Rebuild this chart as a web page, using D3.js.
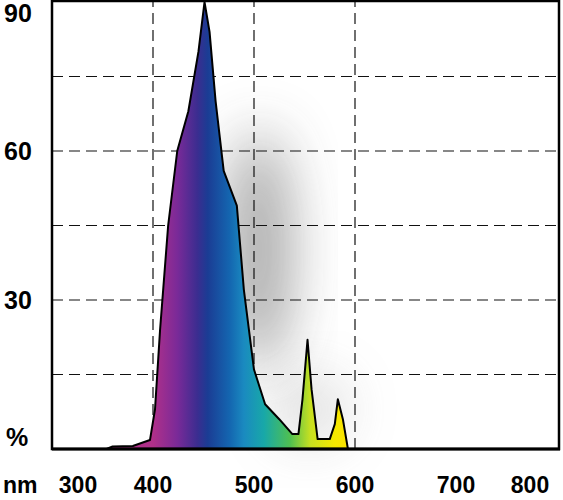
<!DOCTYPE html>
<html><head><meta charset="utf-8">
<script src="https://cdn.jsdelivr.net/npm/d3@7"></script>
<style>body{margin:0;background:#fff}</style>
</head><body>
<svg id="c" width="563" height="500"></svg>
<script>
// spectrum: wavelength (nm) and relative intensity (%)
const wavelengths = [354, 360, 380, 397, 402, 407, 415, 424, 435, 445, 451, 456, 462, 470, 483, 490, 500, 511, 525, 538, 544, 548, 553, 557, 563, 575, 580, 583, 588, 593, 600];
const intensity   = [0,   0.5, 0.6, 1.8, 8,   24,  45,  60,  68,  80,  90,  84,  70,  56,  49,  32,  16,  9,   6,   3,   3,   10,  22,  12,  2,   2,   5,   10,  6,   0,   0];
const xTicks = [300, 400, 500, 600, 700, 800];
const yTicks = [30, 60, 90];
const yGrid = [15, 30, 45, 60, 75];
const xGrid = [400, 500, 600];

const svg = d3.select('#c');
const x = d3.scaleLinear().domain([300, 800]).range([52, 557]);
const y = d3.scaleLinear().domain([0, 90]).range([449, 2]);

const defs = svg.append('defs');
const g = defs.append('linearGradient').attr('id', 'spec')
  .attr('gradientUnits', 'userSpaceOnUse')
  .attr('x1', x(400)).attr('x2', x(600)).attr('y1', 0).attr('y2', 0);
[[0, '#b0308a'], [0.12, '#7a2a98'], [0.22, '#3b2d90'], [0.27, '#1b3c94'],
 [0.38, '#1466b0'], [0.45, '#1a8ac0'], [0.55, '#18a8a8'], [0.68, '#50c050'],
 [0.78, '#c8e020'], [0.9, '#f5e800'], [1, '#ffe000']].forEach(function(s) {
  g.append('stop').attr('offset', s[0]).attr('stop-color', s[1]);
});
defs.append('filter').attr('id', 'blur').attr('x', '-80%').attr('y', '-80%')
  .attr('width', '260%').attr('height', '260%')
  .append('feGaussianBlur').attr('stdDeviation', 28);

// grey glow behind the curve
svg.append('ellipse').attr('cx', x(505)).attr('cy', y(40))
  .attr('rx', 30).attr('ry', 120).attr('fill', '#444').attr('opacity', 0.5)
  .attr('filter', 'url(#blur)');
svg.append('ellipse').attr('cx', x(555)).attr('cy', y(8))
  .attr('rx', 35).attr('ry', 30).attr('fill', '#888').attr('opacity', 0.35)
  .attr('filter', 'url(#blur)');

// grid
svg.selectAll('line.h').data(yGrid).enter().append('line')
  .attr('x1', x(300)).attr('x2', x(800))
  .attr('y1', function(d) { return y(d); }).attr('y2', function(d) { return y(d); })
  .attr('stroke', '#111').attr('stroke-width', 1.2).attr('stroke-dasharray', '11,6');
svg.selectAll('line.v').data(xGrid).enter().append('line')
  .attr('y1', y(0)).attr('y2', y(90))
  .attr('x1', function(d) { return x(d); }).attr('x2', function(d) { return x(d); })
  .attr('stroke', '#111').attr('stroke-width', 1.2).attr('stroke-dasharray', '11,6');

const pts = wavelengths.map(function(w, i) { return [w, intensity[i]]; });
const area = d3.area().x(function(d) { return x(d[0]); })
  .y0(y(0)).y1(function(d) { return y(d[1]); });
svg.append('path').datum(pts).attr('d', area).attr('fill', 'url(#spec)')
  .attr('stroke', '#000').attr('stroke-width', 2).attr('stroke-linejoin', 'round');

// frame
svg.append('rect').attr('x', x(300)).attr('y', 1).attr('width', x(800) - x(300) + 2)
  .attr('height', y(0) - 1).attr('fill', 'none').attr('stroke', '#000').attr('stroke-width', 2.5);
svg.append('line').attr('x1', x(300)).attr('x2', x(800) + 3).attr('y1', y(0)).attr('y2', y(0))
  .attr('stroke', '#000').attr('stroke-width', 3);

const font = "'Liberation Sans', Arial, sans-serif";
svg.selectAll('text.y').data(yTicks).enter().append('text')
  .text(function(d) { return d; })
  .attr('x', 4).attr('y', function(d) { return y(d) + (d === 90 ? 20 : 9); })
  .style('font-family', font).style('font-weight', 'bold').style('font-size', '25px');
svg.append('text').text('%').attr('x', 6).attr('y', 446)
  .style('font-family', font).style('font-weight', 'bold').style('font-size', '25px');
svg.append('text').text('nm').attr('x', 3).attr('y', 493)
  .style('font-family', font).style('font-weight', 'bold').style('font-size', '23px');
svg.selectAll('text.x').data(xTicks).enter().append('text')
  .text(function(d) { return d; })
  .attr('x', function(d) { return d === 300 ? 78 : d === 800 ? 530 : x(d); })
  .attr('y', 493).attr('text-anchor', 'middle')
  .style('font-family', font).style('font-weight', 'bold').style('font-size', '23px');
</script>
</body></html>
